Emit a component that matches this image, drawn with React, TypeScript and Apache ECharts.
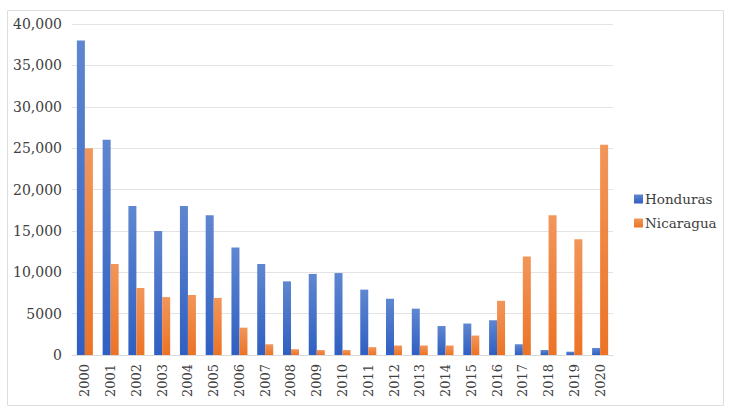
import React, { useEffect, useRef } from "react";
import * as echarts from "echarts";

const years = ["2000","2001","2002","2003","2004","2005","2006","2007","2008","2009","2010","2011","2012","2013","2014","2015","2016","2017","2018","2019","2020"];
const honduras = [38000, 26000, 18000, 15000, 18000, 16900, 13000, 11000, 8900, 9800, 9900, 7900, 6800, 5600, 3500, 3800, 4200, 1300, 600, 400, 850];
const nicaragua = [25000, 11000, 8100, 7000, 7250, 6900, 3300, 1300, 700, 600, 600, 950, 1150, 1150, 1150, 2350, 6550, 11900, 16900, 14000, 25400];

const fmt = (v: number) => (v >= 10000 ? v.toLocaleString("en-US") : String(v));

export default function App() {
  const ref = useRef<HTMLDivElement>(null);
  useEffect(() => {
    if (!ref.current) return;
    const chart = echarts.init(ref.current, undefined, { renderer: "svg" });
    const font = "DejaVu Serif";
    const grad = (top: string, bottom: string) =>
      new echarts.graphic.LinearGradient(0, 0, 0, 1, [
        { offset: 0, color: top },
        { offset: 1, color: bottom },
      ]);
    chart.setOption({
      animation: false,
      backgroundColor: "#ffffff",
      textStyle: { fontFamily: font },
      graphic: [
        {
          type: "rect",
          shape: { x: 7.5, y: 10.5, width: 716, height: 395 },
          style: { fill: "none", stroke: "#dedede", lineWidth: 1 },
          silent: true,
        },
      ],
      legend: {
        orient: "vertical",
        left: 629,
        top: 187,
        itemWidth: 9,
        itemHeight: 9,
        itemGap: 10,
        icon: "rect",
        textStyle: { fontFamily: font, fontSize: 13.5, color: "#404040", padding: [0, 0, 0, -3] },
        data: ["Honduras", "Nicaragua"],
      },
      grid: { left: 72, right: 121, top: 24, bottom: 61, containLabel: false },
      xAxis: {
        type: "category",
        data: years,
        axisLine: { show: true, lineStyle: { color: "#d9d9d9" } },
        axisTick: { show: false },
        axisLabel: {
          rotate: 90,
          fontFamily: font,
          fontSize: 13,
          color: "#404040",
          margin: 9,
          interval: 0,
        },
      },
      yAxis: {
        type: "value",
        min: 0,
        max: 40000,
        interval: 5000,
        axisLine: { show: false },
        axisTick: { show: false },
        splitLine: { lineStyle: { color: "#e3e3e3" } },
        axisLabel: {
          fontFamily: font,
          fontSize: 14,
          color: "#404040",
          margin: 10,
          formatter: (v: number) => fmt(v),
        },
      },
      series: [
        {
          name: "Honduras",
          type: "bar",
          data: honduras,
          barWidth: 8,
          barGap: "0%",
          itemStyle: { color: grad("#5f86d0", "#2f5fc2") },
        },
        {
          name: "Nicaragua",
          type: "bar",
          data: nicaragua,
          barWidth: 8,
          barGap: "0%",
          itemStyle: { color: grad("#f2965a", "#ec7325") },
        },
      ],
    });
    return () => chart.dispose();
  }, []);
  return (
    <div
      ref={ref}
      style={{ position: "absolute", left: 0, top: 0, width: 734, height: 416 }}
    />
  );
}
